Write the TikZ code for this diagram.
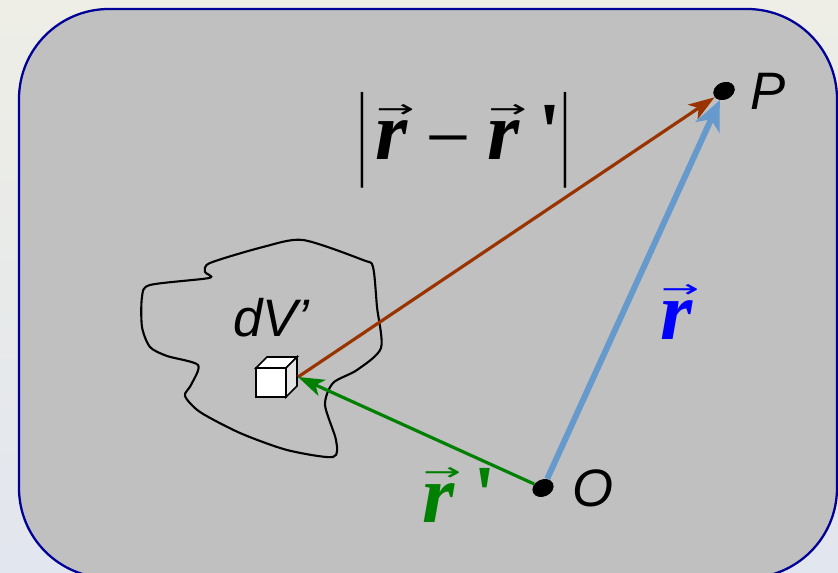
\documentclass[tikz,border=0pt]{standalone}
\usepackage{fontspec}
\usepackage{graphicx}
\usepackage{xcolor}
\setmainfont{Liberation Serif}
\setsansfont{Liberation Sans}
\newfontfamily\arrowfont{DejaVu Sans}
\usetikzlibrary{arrows.meta,shapes.geometric}
\definecolor{boxgray}{HTML}{C0C0C0}
\definecolor{boxline}{HTML}{000099}
\definecolor{rustbrown}{HTML}{993300}
\definecolor{steelblue}{HTML}{6699CC}
\definecolor{vgreen}{HTML}{008000}
\definecolor{cubeside}{HTML}{E4E4E4}
\newcommand{\vecr}{\makebox[0pt][l]{\hspace{0.01em}\raisebox{0.52em}{\arrowfont\scalebox{0.55}[0.3]{→}}}\textbf{\textit{r}}}
\newcommand{\vprime}{\hspace{0.22em}\textbf{\textquotesingle}}
\newcommand{\absbar}{\raisebox{-0.34em}{\resizebox{0.12em}{1.16em}{\raisebox{\depth}{|}}}}
\newcommand{\vminus}{\raisebox{0.08em}{\arrowfont\scalebox{0.72}[0.6]{−}}}

\begin{document}
\begin{tikzpicture}[
  x=0.02cm, y=-0.02cm,
  dot/.style={ellipse,fill=black,inner sep=0pt,minimum width=0.44cm,minimum height=0.34cm,rotate=25},
  ptlabel/.style={anchor=base west,inner sep=0pt,font=\sffamily\itshape\fontsize{30}{34}\selectfont},
  vlabel/.style={anchor=base west,inner sep=0pt,font=\fontsize{47}{52}\selectfont},
  vec/.style={-{Stealth[length=15pt,width=10pt,inset=4pt]},line width=1.8pt}
]
  \useasboundingbox[shade,top color={rgb,255:red,238;green,238;blue,230},bottom color={rgb,255:red,226;green,230;blue,238}] (0,0) rectangle (838,573);
  \draw[boxline,fill=boxgray,line width=1.3pt,rounded corners=1.8cm] (19,9) rectangle (837,578);
  % volume region
  \draw[line width=1.2pt] plot[smooth cycle,tension=0.45] coordinates {
    (210,263) (205,272) (209,278) (150,285) (142,297) (142,327) (150,347)
    (167,356) (198,365) (191,385) (185,396) (200,412) (240,433)
    (287,450) (333,457) (336,440) (325,405) (333,383) (357,370)
    (381,348) (377,307) (373,267) (363,260) (303,240) (263,247)};
  % small cube
  \draw[line width=1pt,fill=white] (256,368) rectangle (286,397);
  \draw[line width=1pt,fill=white] (256,368) -- (267,357) -- (297,357) -- (286,368) -- cycle;
  \draw[line width=1pt,fill=cubeside] (286,368) -- (297,357) -- (297,386) -- (286,397) -- cycle;
  \coordinate (dv) at (298,377);
  \node[dot] (P) at (724,91) {};
  \node[dot] (O) at (543,488) {};
  \node[ptlabel] (lp) at (750,110) {P};
  \node[ptlabel] (lo) at (572,507) {O};
  \node[ptlabel] (ldv) at (233,337) {dV’};
  \draw[vec,rustbrown] (dv) -- (P);
  \draw[vec,vgreen] (O) -- (dv);
  \draw[steelblue,line width=3.4pt,-{Stealth[length=17pt,width=15pt,inset=5pt]}] (O) -- (P);
  \node[dot] at (P) {};
  \node[vlabel,text=blue] (lr) at (660,340) {\vecr};
  \node[vlabel,text=vgreen] (lrp) at (422,523) {\vecr\vprime};
  \node[vlabel] (ldiff) at (357,160) {\absbar\hspace{0.1em}\vecr\hspace{0.18em}\vminus\hspace{0.18em}\vecr\vprime\hspace{-0.02em}\absbar};
\end{tikzpicture}
\end{document}
